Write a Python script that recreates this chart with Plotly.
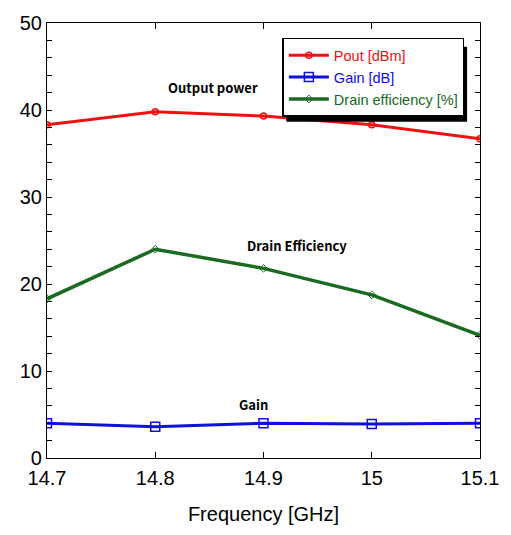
import plotly.graph_objects as go

freq = [14.7, 14.8, 14.9, 15.0, 15.1]
pout = [38.3, 39.8, 39.3, 38.3, 36.7]
gain = [4.0, 3.6, 4.0, 3.9, 4.0]
drain_eff = [18.3, 24.0, 21.8, 18.75, 14.1]

x_ticks = [14.7, 14.8, 14.9, 15.0, 15.1]
x_ticktext = ["14.7", "14.8", "14.9", "15", "15.1"]
y_ticks = [0, 10, 20, 30, 40, 50]

RED, BLUE, GREEN = "#ee1111", "#1010dd", "#1a6a22"

fig = go.Figure()
fig.add_trace(go.Scatter(x=freq, y=pout, mode="lines+markers",
                         name=f"<span style='color:{RED}'>Pout [dBm]</span>",
                         line=dict(color=RED, width=3),
                         marker=dict(symbol="circle-open", size=6, color=RED, line=dict(width=1.5))))
fig.add_trace(go.Scatter(x=freq, y=gain, mode="lines+markers",
                         name=f"<span style='color:{BLUE}'>Gain [dB]</span>",
                         line=dict(color=BLUE, width=3),
                         marker=dict(symbol="square-open", size=9, color=BLUE, line=dict(width=1.5))))
fig.add_trace(go.Scatter(x=freq, y=drain_eff, mode="lines+markers",
                         name=f"<span style='color:{GREEN}'>Drain efficiency [%]</span>",
                         line=dict(color=GREEN, width=3.5),
                         marker=dict(symbol="diamond-open", size=6, color=GREEN, line=dict(width=1))))

ann_font = dict(family="Noto Sans CJK KR, Noto Sans", size=13, color="black")
fig.add_annotation(x=14.853, y=42.6, text="<b>Output power</b>", showarrow=False, font=ann_font)
fig.add_annotation(x=14.931, y=24.4, text="<b>Drain Efficiency</b>", showarrow=False, font=ann_font)
fig.add_annotation(x=14.891, y=6.1, text="<b>Gain</b>", showarrow=False, font=ann_font)

# legend shadow
fig.add_shape(type="rect", xref="paper", yref="paper",
              x0=(288 - 47) / 436, x1=(470 - 47) / 436,
              y0=(458 - 118) / 440, y1=(458 - 42) / 440,
              fillcolor="black", line=dict(width=0), layer="above")

fig.update_layout(
    width=511, height=535,
    margin=dict(l=47, r=28, t=19, b=77),
    paper_bgcolor="white", plot_bgcolor="white",
    font=dict(family="Liberation Sans, Arial", color="black"),
    showlegend=True,
    legend=dict(x=(284 - 47) / 436, y=(458 - 33) / 440, xanchor="left", yanchor="top",
                bgcolor="white", bordercolor="black", borderwidth=1.5,
                font=dict(size=14.5), tracegroupgap=0, itemwidth=40),
    xaxis=dict(range=[14.7, 15.1], tickvals=x_ticks, ticktext=x_ticktext,
               ticks="inside", ticklen=6, tickcolor="black", showgrid=False, zeroline=False,
               showline=True, linecolor="black", linewidth=1.2, mirror="ticks",
               tickfont=dict(size=20), ticklabelstandoff=2,
               title=dict(text="Frequency [GHz]", font=dict(size=20), standoff=18)),
    yaxis=dict(range=[0, 50], tickvals=y_ticks, ticks="inside", ticklen=5, tickcolor="black",
               showgrid=False, zeroline=False, showline=True, linecolor="black", linewidth=1.2,
               mirror="ticks", tickfont=dict(size=20),
               minor=dict(dtick=2, ticks="inside", ticklen=5, tickcolor="black", showgrid=False)),
)

fig.write_html("out.html")
